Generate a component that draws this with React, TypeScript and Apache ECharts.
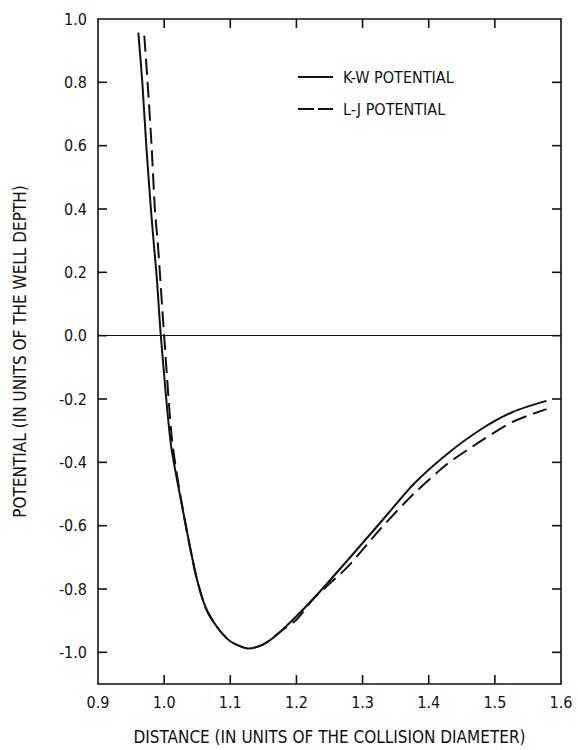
import React, { useEffect, useRef } from "react";
import * as echarts from "echarts";

// K-W potential (solid)
const kwX = [0.961, 0.967, 0.973, 0.98, 0.985, 0.989, 0.995, 1.01, 1.028, 1.048, 1.063, 1.08, 1.1, 1.128, 1.15, 1.176, 1.226, 1.277, 1.327, 1.377, 1.427, 1.478, 1.527, 1.578];
const kwY = [0.957, 0.8, 0.6, 0.4, 0.275, 0.18, 0.0, -0.34, -0.547, -0.756, -0.86, -0.92, -0.965, -0.988, -0.975, -0.934, -0.83, -0.71, -0.59, -0.469, -0.375, -0.297, -0.241, -0.206];

// L-J potential (dashed)
const ljX = [0.97, 0.975, 0.981, 0.986, 0.991, 1.0, 1.012, 1.028, 1.048, 1.063, 1.08, 1.1, 1.128, 1.15, 1.176, 1.2, 1.226, 1.277, 1.327, 1.377, 1.427, 1.478, 1.527, 1.578];
const ljY = [0.947, 0.8, 0.6, 0.4, 0.275, 0.0, -0.33, -0.547, -0.756, -0.86, -0.92, -0.965, -0.988, -0.975, -0.934, -0.897, -0.83, -0.731, -0.61, -0.5, -0.407, -0.334, -0.272, -0.232];

const X_MIN = 0.9;
const X_MAX = 1.6;
const Y_MIN = -1.1;
const Y_MAX = 1.0;
const xTicks = [1.0, 1.1, 1.2, 1.3, 1.4, 1.5];
const yTickLabels = [-1.0, -0.8, -0.6, -0.4, -0.2, 0.0, 0.2, 0.4, 0.6, 0.8, 1.0];
const yTicks = [-1.0, -0.8, -0.6, -0.4, -0.2, 0.0, 0.2, 0.4, 0.6, 0.8];

const legendNames = ["K-W POTENTIAL", "L-J POTENTIAL"];
const xTitle = "DISTANCE (IN UNITS OF THE COLLISION DIAMETER)";
const yTitle = "POTENTIAL (IN UNITS OF THE WELL DEPTH)";

const FONT = "'DejaVu Sans Condensed', 'Liberation Sans Narrow', sans-serif";
const INK = "#111";
const TICK_LEN = 9;

export default function App() {
  const ref = useRef<HTMLDivElement>(null);
  useEffect(() => {
    document.body.style.margin = "0";
    const chart = echarts.init(ref.current!, null, { renderer: "svg" });
    const fmt = (v: number) => v.toFixed(1);
    const axisBase = () => ({
      type: "value",
      splitLine: { show: false },
      axisTick: { show: false },
      axisLine: { show: true, onZero: false, lineStyle: { color: INK, width: 1.6 } },
    });
    const tickData = [
      ...xTicks.map((v) => [v, Y_MIN, 0]),
      ...yTicks.map((v) => [X_MIN, v, 1]),
    ];
    const tickStyle = { stroke: INK, lineWidth: 1.6 };
    chart.setOption({
      animation: false,
      backgroundColor: "#fff",
      textStyle: { fontFamily: FONT },
      grid: { left: 98, right: 17, top: 19, bottom: 61 },
      xAxis: [
        {
          ...axisBase(),
          position: "bottom",
          min: X_MIN,
          max: X_MAX,
          interval: 0.1,
          axisLabel: { formatter: fmt, color: INK, fontSize: 16, margin: 10, fontFamily: FONT, showMinLabel: true, showMaxLabel: true },
          name: xTitle,
          nameLocation: "middle",
          nameGap: 44,
          nameTextStyle: { color: INK, fontSize: 17, fontFamily: FONT },
        },
        {
          ...axisBase(),
          position: "top",
          min: X_MIN,
          max: X_MAX,
          interval: 0.1,
          axisLabel: { show: false },
        },
      ],
      yAxis: [
        {
          ...axisBase(),
          position: "left",
          min: Y_MIN,
          max: Y_MAX,
          axisLabel: { customValues: yTickLabels, formatter: fmt, color: INK, fontSize: 16, margin: 11, fontFamily: FONT },
          name: yTitle,
          nameLocation: "middle",
          nameGap: 70,
          nameRotate: 90,
          nameTextStyle: { color: INK, fontSize: 17, fontFamily: FONT },
        },
        {
          ...axisBase(),
          position: "right",
          min: Y_MIN,
          max: Y_MAX,
          axisLabel: { show: false, customValues: yTickLabels },
        },
      ],
      series: [
        {
          name: legendNames[0],
          type: "line",
          data: kwX.map((x, i) => [x, kwY[i]]),
          smooth: 0.25,
          showSymbol: false,
          lineStyle: { color: INK, width: 2, type: "solid" },
          markLine: {
            silent: true,
            symbol: "none",
            label: { show: false },
            lineStyle: { color: INK, width: 1, type: "solid" },
            data: [{ yAxis: 0 }],
          },
        },
        {
          name: legendNames[1],
          type: "line",
          data: ljX.map((x, i) => [x, ljY[i]]),
          smooth: 0.25,
          showSymbol: false,
          lineStyle: { color: INK, width: 2, type: [16, 7] },
        },
        {
          name: "ticks",
          type: "custom",
          silent: true,
          clip: false,
          data: tickData,
          renderItem: (_params: any, api: any) => {
            const v0 = api.value(0);
            const v1 = api.value(1);
            const kind = api.value(2);
            if (kind === 0) {
              const b = api.coord([v0, Y_MIN]);
              const t = api.coord([v0, Y_MAX]);
              return {
                type: "group",
                children: [
                  { type: "line", shape: { x1: b[0], y1: b[1], x2: b[0], y2: b[1] - TICK_LEN }, style: tickStyle },
                  { type: "line", shape: { x1: t[0], y1: t[1], x2: t[0], y2: t[1] + TICK_LEN }, style: tickStyle },
                ],
              };
            }
            const l = api.coord([X_MIN, v1]);
            const r = api.coord([X_MAX, v1]);
            return {
              type: "group",
              children: [
                { type: "line", shape: { x1: l[0], y1: l[1], x2: l[0] + TICK_LEN, y2: l[1] }, style: tickStyle },
                { type: "line", shape: { x1: r[0], y1: r[1], x2: r[0] - TICK_LEN, y2: r[1] }, style: tickStyle },
              ],
            };
          },
        },
      ],
      graphic: [
        { type: "line", shape: { x1: 298, y1: 77, x2: 333, y2: 77 }, style: { stroke: INK, lineWidth: 2 } },
        { type: "text", x: 343, y: 77, style: { text: legendNames[0], fill: INK, font: `16px ${FONT}`, verticalAlign: "middle" } },
        { type: "line", shape: { x1: 298, y1: 109, x2: 314, y2: 109 }, style: { stroke: INK, lineWidth: 2 } },
        { type: "line", shape: { x1: 318, y1: 109, x2: 333, y2: 109 }, style: { stroke: INK, lineWidth: 2 } },
        { type: "text", x: 343, y: 109, style: { text: legendNames[1], fill: INK, font: `16px ${FONT}`, verticalAlign: "middle" } },
      ],
    });
    return () => chart.dispose();
  }, []);
  return <div ref={ref} style={{ width: 578, height: 750 }} />;
}
